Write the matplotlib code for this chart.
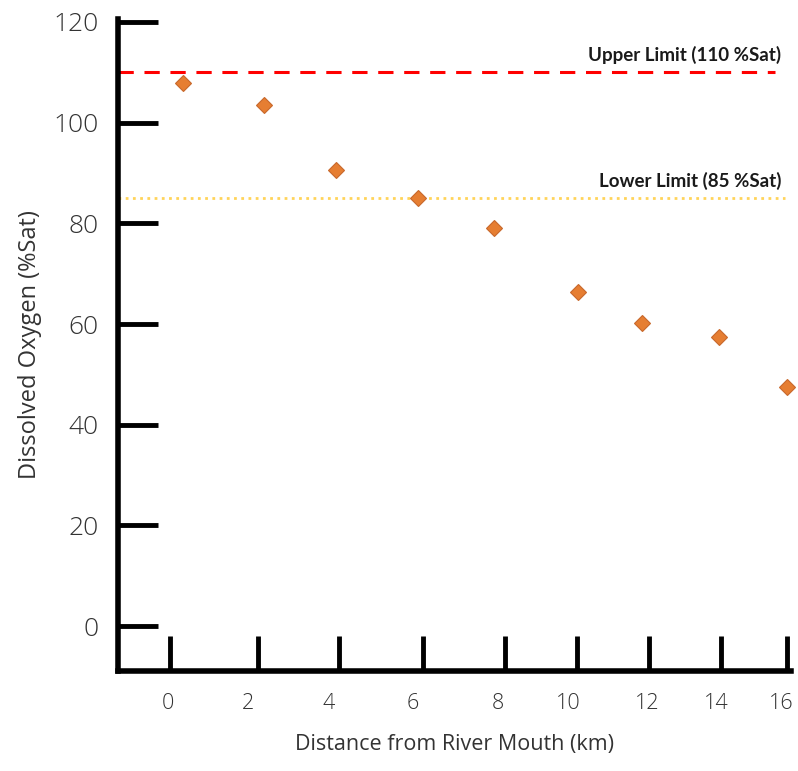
import matplotlib
matplotlib.use("Agg")
import matplotlib.pyplot as plt

# distances (km) and dissolved oxygen (%Sat)
distance = [0.34, 2.44, 4.30, 6.43, 8.40, 10.58, 12.24, 14.24, 16.0]
oxygen = [107.9, 103.5, 90.6, 85.0, 79.1, 66.4, 60.2, 57.4, 47.5]

upper_limit = 110
lower_limit = 85

# hand-drawn tick marks sit a little off the labels
x_tick_marks = [0, 2.28, 4.38, 6.56, 8.69, 10.56, 12.42, 14.29, 16.0]
x_label_pos = [-0.05, 2.02, 4.10, 6.28, 8.49, 10.32, 12.37, 14.16, 15.84]
x_tick_labels = ['0', '2', '4', '6', '8', '10', '12', '14', '16']
y_ticks = [0, 20, 40, 60, 80, 100, 120]

plt.rcParams['font.family'] = ['Open Sans', 'DejaVu Sans']

fig = plt.figure(figsize=(7.98, 7.71), dpi=100)
ax = fig.add_axes([0.1479, 0.1297, 0.8434, 0.8457])

ax.set_xlim(-1.35, 16.1)
ax.set_ylim(-8.9, 120.6)

ax.axhline(upper_limit, xmin=0, xmax=0.976, color='#ff0000', lw=2.2,
           dashes=(5, 3.5))
ax.axhline(lower_limit, xmin=0, xmax=0.991, color='#ffd45a', lw=2,
           linestyle=(0, (1, 1.6)))

ax.plot(distance, oxygen, linestyle='none', marker='D', markersize=8.5,
        color='#e67e32', markeredgecolor='#c8682c', markeredgewidth=0.8,
        clip_on=False, zorder=3)

ax.text(15.85, upper_limit + 1.6, 'Upper Limit (110 %Sat)', ha='right',
        va='bottom', fontsize=13.5, fontweight='bold', color='#1a1a1a',
        family=['Lato', 'DejaVu Sans'])
ax.text(15.85, lower_limit + 1.6, 'Lower Limit (85 %Sat)', ha='right',
        va='bottom', fontsize=13.5, fontweight='bold', color='#1a1a1a',
        family=['Lato', 'DejaVu Sans'])

for side in ['top', 'right']:
    ax.spines[side].set_visible(False)
for side in ['left', 'bottom']:
    ax.spines[side].set_linewidth(4)
    ax.spines[side].set_color('black')
    ax.spines[side].set_capstyle('projecting')

ax.set_yticks(y_ticks)
ax.set_yticklabels([str(v) for v in y_ticks], fontsize=19, color='#333333',
                   fontweight='light')
ax.tick_params(axis='y', direction='in', length=29, width=3.5, pad=14)

ax.set_xticks(x_label_pos)
ax.set_xticklabels(x_tick_labels, fontsize=15.5, color='#333333',
                   fontweight='light')
ax.tick_params(axis='x', which='major', length=0, pad=16)
ax.set_xticks(x_tick_marks, minor=True)
ax.tick_params(axis='x', which='minor', direction='in', length=25, width=3.5)

ax.set_xlabel('Distance from River Mouth (km)', fontsize=15.5, color='#333333',
              labelpad=14)
ax.set_ylabel('Dissolved Oxygen (%Sat)', fontsize=17, color='#333333',
              labelpad=8)

fig.savefig('out.png', dpi=100)
